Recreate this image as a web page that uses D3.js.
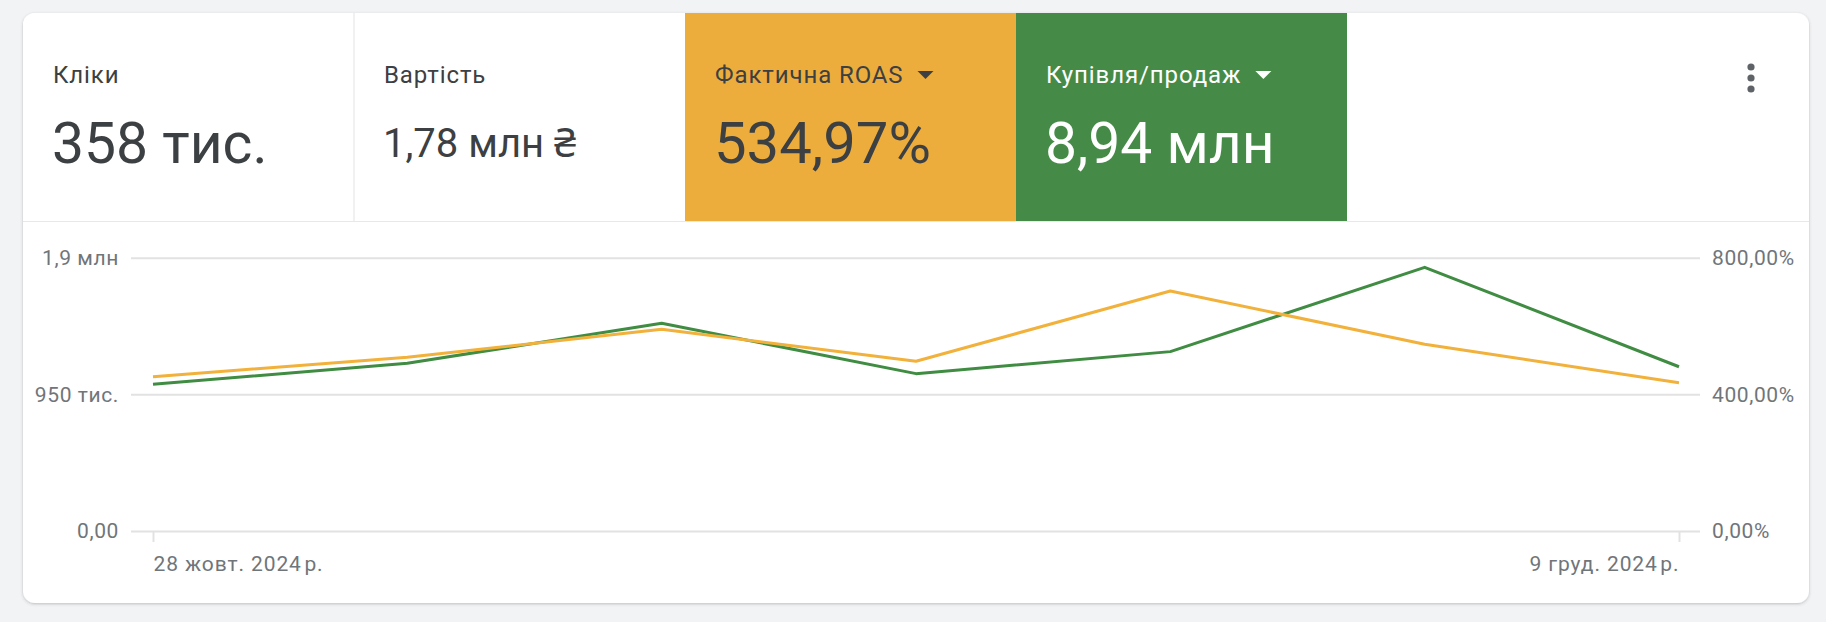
<!DOCTYPE html>
<html>
<head>
<meta charset="utf-8">
<script src="https://cdn.jsdelivr.net/npm/d3@7"></script>
<style>
  body { margin: 0; background: #f1f3f4; font-family: Roboto, "Noto Sans", sans-serif; }
  svg { display: block; }
  .tick text { font-family: Roboto, sans-serif; }
</style>
</head>
<body>
<div id="chart"></div>
<script>
var svgWidth = 1826;
var svgHeight = 622;

// weekly points
var dates = ["2024-10-28", "2024-11-04", "2024-11-11", "2024-11-18", "2024-11-25", "2024-12-02", "2024-12-09"];
var conversionValue = [1020000, 1166000, 1444000, 1094000, 1247000, 1833000, 1142000];
var roas = [451.7, 508.4, 590.4, 496.7, 702.5, 546.5, 434.1];

var leftTicks = [0, 950000, 1900000];
var leftTickLabels = ["0,00", "950 тис.", "1,9 млн"];
var rightTicks = [0, 400, 800];
var rightTickLabels = ["0,00%", "400,00%", "800,00%"];
var xTickLabels = ["28 жовт. 2024\u202Fр.", "9 груд. 2024\u202Fр."];

var tileLabels = ["Кліки", "Вартість", "Фактична ROAS", "Купівля/продаж"];
var tileValues = ["358 тис.", "1,78 млн ₴", "534,97%", "8,94 млн"];

var card = { x: 23, y: 13, w: 1786, h: 590 };
var headerH = 208;
var tileW = 331;
var tileStyle = [
  { fill: "#ffffff", color: "#3c4043", size: 57, base: 163, arrow: false },
  { fill: "#ffffff", color: "#3c4043", size: 40, base: 157, arrow: false },
  { fill: "#edad3c", color: "#3c4043", size: 58, base: 163, arrow: true },
  { fill: "#458b47", color: "#ffffff", size: 57, base: 163, arrow: true }
];

var plot = { left: 131, right: 1700, top: 257.7, bottom: 531 };
var orangeLine = "#f1b13b";
var greenLine = "#3f8c42";

var svg = d3.select("#chart")
  .append("svg")
  .attr("width", svgWidth)
  .attr("height", svgHeight);

var defs = svg.append("defs");
var shadow = defs.append("filter")
  .attr("id", "shadow")
  .attr("x", "-5%").attr("y", "-5%")
  .attr("width", "110%").attr("height", "110%");
shadow.append("feDropShadow")
  .attr("dx", 0).attr("dy", 1)
  .attr("stdDeviation", 1.5)
  .attr("flood-color", "#3c4043")
  .attr("flood-opacity", 0.3);

defs.append("clipPath").attr("id", "cardClip")
  .append("rect")
  .attr("x", card.x).attr("y", card.y)
  .attr("width", card.w).attr("height", card.h)
  .attr("rx", 12);

svg.append("rect")
  .attr("x", card.x).attr("y", card.y)
  .attr("width", card.w).attr("height", card.h)
  .attr("rx", 12)
  .attr("fill", "#fff")
  .attr("filter", "url(#shadow)");

function drawHeader() {
  var header = svg.append("g").attr("clip-path", "url(#cardClip)");

  tileLabels.forEach(function(label, i) {
    var st = tileStyle[i];
    var tx = card.x + i * tileW;
    var g = header.append("g").attr("transform", `translate(${tx}, ${card.y})`);

    g.append("rect")
      .attr("width", tileW)
      .attr("height", headerH)
      .attr("fill", st.fill);

    var lab = g.append("text")
      .attr("x", 30)
      .attr("y", 83.3 - card.y)
      .attr("fill", st.color)
      .style("font-size", "24px")
      .style("letter-spacing", "0.9px")
      .text(label);

    g.append("text")
      .attr("x", 29)
      .attr("y", st.base - card.y)
      .attr("fill", st.color)
      .style("font-size", st.size + "px")
      .text(tileValues[i]);

    if (st.arrow) {
      var ax = 30 + lab.node().getComputedTextLength() + 14;
      var ay = 71 - card.y;
      g.append("path")
        .attr("d", `M${ax},${ay}L${ax + 16},${ay}L${ax + 8},${ay + 8}Z`)
        .attr("fill", st.color);
    }
  });

  // separator between first two tiles
  header.append("line")
    .attr("x1", card.x + tileW).attr("x2", card.x + tileW)
    .attr("y1", card.y).attr("y2", card.y + headerH)
    .attr("stroke", "#e3e3e3").attr("stroke-width", 1);

  header.append("line")
    .attr("x1", card.x).attr("x2", card.x + card.w)
    .attr("y1", card.y + headerH + 0.5).attr("y2", card.y + headerH + 0.5)
    .attr("stroke", "#e8e8e8").attr("stroke-width", 1);

  // kebab menu
  [67, 78, 89].forEach(function(cy) {
    header.append("circle")
      .attr("cx", 1751).attr("cy", cy)
      .attr("r", 3.6)
      .attr("fill", "#5f6368");
  });
}

function drawChart() {
  var x = d3.scalePoint()
    .domain(dates)
    .range([153, 1679]);

  var yLeft = d3.scaleLinear()
    .domain([0, 1900000])
    .range([plot.bottom, plot.top]);

  var yRight = d3.scaleLinear()
    .domain([0, 800])
    .range([plot.bottom, plot.top]);

  var leftAxis = d3.axisLeft(yLeft)
    .tickValues(leftTicks)
    .tickSize(-(plot.right - plot.left))
    .tickPadding(12)
    .tickFormat(function(d, i) { return leftTickLabels[i]; });

  var gl = svg.append("g")
    .attr("transform", `translate(${plot.left}, 0)`)
    .call(leftAxis);
  gl.select(".domain").remove();
  gl.selectAll(".tick line").attr("stroke", "#e2e2e2").attr("stroke-width", 2);
  gl.selectAll(".tick text")
    .attr("fill", "#70757a")
    .style("font-size", "21px")
    .style("letter-spacing", "0.6px");

  var rightAxis = d3.axisRight(yRight)
    .tickValues(rightTicks)
    .tickSize(0)
    .tickPadding(12)
    .tickFormat(function(d, i) { return rightTickLabels[i]; });

  var gr = svg.append("g")
    .attr("transform", `translate(${plot.right}, 0)`)
    .call(rightAxis);
  gr.select(".domain").remove();
  gr.selectAll(".tick text")
    .attr("fill", "#70757a")
    .style("font-size", "21px")
    .style("letter-spacing", "0.6px");

  var xAxis = d3.axisBottom(x)
    .tickValues([dates[0], dates[dates.length - 1]])
    .tickSize(11)
    .tickPadding(10)
    .tickFormat(function(d, i) { return xTickLabels[i]; });

  var gx = svg.append("g")
    .attr("transform", `translate(0, ${plot.bottom})`)
    .call(xAxis);
  gx.select(".domain").remove();
  gx.selectAll(".tick line").attr("stroke", "#e2e2e2").attr("stroke-width", 2);
  gx.selectAll(".tick text")
    .attr("fill", "#70757a")
    .style("font-size", "21px")
    .style("letter-spacing", "0.9px")
    .attr("dy", "0.9em")
    .attr("text-anchor", function(d, i) { return i == 0 ? "start" : "end"; });

  var greenPath = d3.line()
    .x(function(d, i) { return x(dates[i]); })
    .y(function(d) { return yLeft(d); });

  var orangePath = d3.line()
    .x(function(d, i) { return x(dates[i]); })
    .y(function(d) { return yRight(d); });

  svg.append("path")
    .datum(conversionValue)
    .attr("d", greenPath)
    .attr("fill", "none")
    .attr("stroke", greenLine)
    .attr("stroke-width", 3)
    .attr("stroke-linejoin", "round");

  svg.append("path")
    .datum(roas)
    .attr("d", orangePath)
    .attr("fill", "none")
    .attr("stroke", orangeLine)
    .attr("stroke-width", 3)
    .attr("stroke-linejoin", "round");
}

drawHeader();
drawChart();
</script>
</body>
</html>
